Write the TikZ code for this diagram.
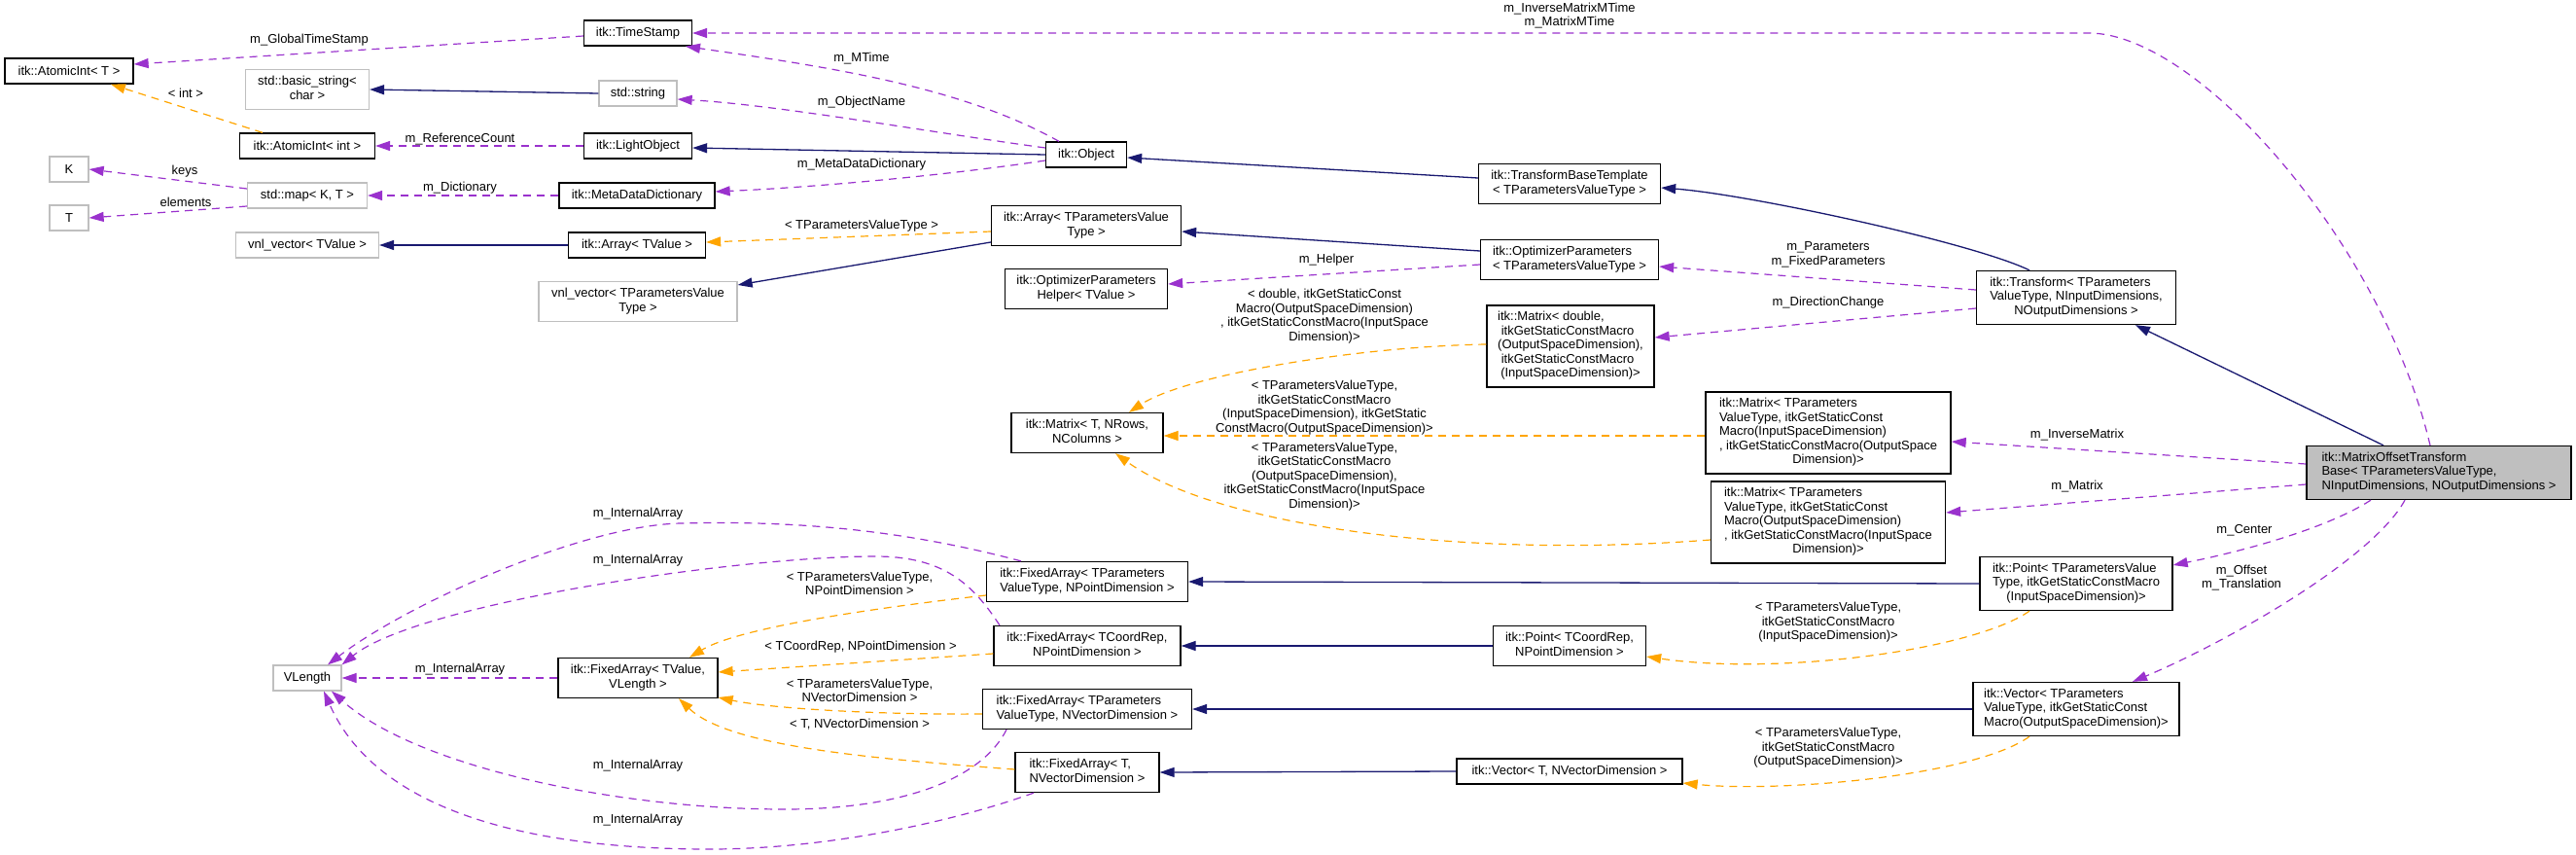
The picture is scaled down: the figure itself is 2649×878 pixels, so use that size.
\documentclass[tikz,border=0pt]{standalone}
\usepackage{fontspec}
\setmainfont{Liberation Sans}
\usetikzlibrary{arrows.meta}
\definecolor{edgepurple}{HTML}{9A32CD}
\definecolor{edgeorange}{HTML}{FFA500}
\definecolor{edgenavy}{HTML}{191970}
\definecolor{extgray}{HTML}{BFBFBF}
\newcommand{\twol}[2]{\begin{tabular}{@{}l@{}}#1\\\multicolumn{1}{@{}c@{}}{#2}\end{tabular}}
\begin{document}
\begin{tikzpicture}[x=1pt,y=-1pt,
  font=\fontsize{13}{14.5}\selectfont,
  cls/.style={draw=black, line width=1.3pt, fill=white, inner sep=0pt, minimum height=26pt, align=center},
  ext/.style={cls, draw=extgray},
  cur/.style={cls, fill=extgray},
  lbl/.style={inner sep=0pt, align=center},
  use/.style={draw=edgepurple, line width=1.2pt, dash pattern=on 8pt off 6pt, -{Triangle[length=15pt,width=10pt]}},
  tpl/.style={use, draw=edgeorange},
  inh/.style={draw=edgenavy, line width=1.3pt, -{Triangle[length=15pt,width=10pt]}},
]
\useasboundingbox (0,0) rectangle (2649,878);
% nodes
\node[cls, minimum width=111pt] (ts) at (656,34) {itk::TimeStamp};
\node[cls, minimum width=132pt] (aiT) at (71,73) {itk::AtomicInt< T >};
\node[ext, minimum width=127pt, minimum height=41pt] (bs) at (316,92) {\twol{std::basic\_string<}{char >}};
\node[ext, minimum width=80pt] (str) at (656,96) {std::string};
\node[cls, minimum width=139pt] (aii) at (316,150) {itk::AtomicInt< int >};
\node[cls, minimum width=111pt] (lo) at (656,150) {itk::LightObject};
\node[ext, minimum width=40pt] (K) at (71,174) {K};
\node[ext, minimum width=40pt] (T) at (71,224) {T};
\node[ext, minimum width=123pt] (map) at (316,201) {std::map< K, T >};
\node[cls, minimum width=160pt] (mdd) at (655,201) {itk::MetaDataDictionary};
\node[ext, minimum width=147pt] (vnlT) at (316,252) {vnl\_vector< TValue >};
\node[cls, minimum width=141pt] (arrT) at (655,252) {itk::Array< TValue >};
\node[ext, minimum width=204pt, minimum height=41pt] (vnlP) at (656,310) {\twol{vnl\_vector< TParametersValue}{Type >}};
\node[cls, minimum width=83pt] (obj) at (1117,159) {itk::Object};
\node[cls, minimum width=195pt, minimum height=41pt] (arrP) at (1117,232) {\twol{itk::Array< TParametersValue}{Type >}};
\node[cls, minimum width=167pt, minimum height=41pt] (help) at (1117,297) {\twol{itk::OptimizerParameters}{Helper< TValue >}};
\node[cls, minimum width=187pt, minimum height=41pt] (tbt) at (1614,189) {\twol{itk::TransformBaseTemplate}{< TParametersValueType >}};
\node[cls, minimum width=183pt, minimum height=41pt] (opt) at (1614,267) {\twol{itk::OptimizerParameters}{< TParametersValueType >}};
\node[cls, minimum width=172pt, minimum height=84pt] (mdbl) at (1615,356) {\twol{itk::Matrix< double,\\\ itkGetStaticConstMacro\\(OutputSpaceDimension),\\\ itkGetStaticConstMacro}{(InputSpaceDimension)>}};
\node[cls, minimum width=205pt, minimum height=55pt] (tr) at (2135,306) {\twol{itk::Transform< TParameters\\ValueType, NInputDimensions,}{NOutputDimensions >}};
\node[cls, minimum width=156pt, minimum height=41pt] (mT) at (1118,445) {\twol{itk::Matrix< T, NRows,}{NColumns >}};
\node[cls, minimum width=252pt, minimum height=84pt] (mIO) at (1880,445) {\twol{itk::Matrix< TParameters\\ValueType, itkGetStaticConst\\Macro(InputSpaceDimension)\\, itkGetStaticConstMacro(OutputSpace}{Dimension)>}};
\node[cls, minimum width=241pt, minimum height=84pt] (mOI) at (1880,537) {\twol{itk::Matrix< TParameters\\ValueType, itkGetStaticConst\\Macro(OutputSpaceDimension)\\, itkGetStaticConstMacro(InputSpace}{Dimension)>}};
\node[cur, minimum width=272pt, minimum height=55pt] (motb) at (2508,486) {\twol{itk::MatrixOffsetTransform\\Base< TParametersValueType,}{NInputDimensions, NOutputDimensions >}};
\node[cls, minimum width=198pt, minimum height=55pt] (ptP) at (2135,600) {\twol{itk::Point< TParametersValue\\Type, itkGetStaticConstMacro}{(InputSpaceDimension)>}};
\node[cls, minimum width=212pt, minimum height=55pt] (vecP) at (2135,729) {\twol{itk::Vector< TParameters\\ValueType, itkGetStaticConst}{Macro(OutputSpaceDimension)>}};
\node[cls, minimum width=207pt, minimum height=41pt] (faPP) at (1118,598) {\twol{itk::FixedArray< TParameters}{ValueType, NPointDimension >}};
\node[cls, minimum width=192pt, minimum height=41pt] (faCR) at (1118,664) {\twol{itk::FixedArray< TCoordRep,}{NPointDimension >}};
\node[cls, minimum width=157pt, minimum height=41pt] (ptCR) at (1614,664) {\twol{itk::Point< TCoordRep,}{NPointDimension >}};
\node[cls, minimum width=215pt, minimum height=41pt] (faPV) at (1118,729) {\twol{itk::FixedArray< TParameters}{ValueType, NVectorDimension >}};
\node[cls, minimum width=148pt, minimum height=41pt] (faTV) at (1118,794) {\twol{itk::FixedArray< T,}{NVectorDimension >}};
\node[cls, minimum width=232pt] (vecT) at (1614,793) {itk::Vector< T, NVectorDimension >};
\node[cls, minimum width=164pt, minimum height=41pt] (faV) at (656,697) {\twol{itk::FixedArray< TValue,}{VLength >}};
\node[ext, minimum width=70pt] (VL) at (316,697) {VLength};
% edges
\draw[use] ([yshift=-3pt]ts.west) -- ([yshift=7pt]aiT.east);
\draw[tpl] ([xshift=-46pt]aii.north) -- ([xshift=43pt]aiT.south);
\draw[inh] (str.west) -- (bs.east);
\draw[use] (lo.west) -- (aii.east);
\draw[use] ([yshift=7pt]map.west) -- (K.east);
\draw[use] ([yshift=-11pt]map.west) -- (T.east);
\draw[use] (mdd.west) -- (map.east);
\draw[inh] (arrT.west) -- (vnlT.east);
\draw[use] ([xshift=-28pt]obj.north) .. controls (990,90) and (860,70) .. ([xshift=49pt]ts.south);
\draw[use] ([yshift=7pt]obj.west) .. controls (950,135) and (800,108) .. ([yshift=-6pt]str.east);
\draw[inh] (obj.west) -- ([yshift=-2pt]lo.east);
\draw[use] ([yshift=-6pt]obj.west) .. controls (990,178) and (850,192) .. ([yshift=4pt]mdd.east);
\draw[tpl] ([yshift=-6pt]arrP.west) -- ([yshift=3pt]arrT.east);
\draw[inh] ([yshift=-17pt]arrP.west) -- ([yshift=17pt]vnlP.east);
\draw[inh] ([yshift=6pt]tbt.west) -- ([yshift=-3pt]obj.east);
\draw[inh] ([yshift=9pt]opt.west) -- ([yshift=-6pt]arrP.east);
\draw[use] ([yshift=-5pt]opt.west) -- ([yshift=5pt]help.east);
\draw[inh] ([xshift=-48pt]tr.north) .. controls (2030,250) and (1800,200) .. ([yshift=-4pt]tbt.east);
\draw[use] ([yshift=8pt]tr.west) -- ([yshift=-7pt]opt.east);
\draw[use] ([yshift=-11pt]tr.west) -- ([yshift=9pt]mdbl.east);
\draw[tpl] ([yshift=2pt]mdbl.west) .. controls (1400,356) and (1220,385) .. ([xshift=43pt]mT.north);
\draw[tpl] ([yshift=-3pt]mIO.west) -- ([yshift=-3pt]mT.east);
\draw[tpl] ([yshift=-18pt]mOI.west) .. controls (1500,575) and (1250,540) .. ([xshift=29pt]mT.south);
\draw[inh] ([xshift=-57pt]motb.north) -- ([xshift=61pt]tr.south);
\draw[use] ([xshift=-9pt]motb.north) .. controls (2450,250) and (2260,34) .. (2148,34) -- (ts.east);
\draw[use] ([yshift=9pt]motb.west) -- ([yshift=-9pt]mIO.east);
\draw[use] ([yshift=-12pt]motb.west) -- ([yshift=10pt]mOI.east);
\draw[use] ([xshift=-70pt]motb.south) .. controls (2390,545) and (2300,568) .. ([yshift=19pt]ptP.east);
\draw[use] ([xshift=-35pt]motb.south) .. controls (2440,575) and (2290,660) .. ([xshift=58pt]vecP.north);
\draw[inh] (ptP.west) -- (faPP.east);
\draw[inh] (vecP.west) -- (faPV.east);
\draw[tpl] ([xshift=-48pt]ptP.south) .. controls (2030,668) and (1830,695) .. ([yshift=-11pt]ptCR.east);
\draw[tpl] ([xshift=-48pt]vecP.south) .. controls (2030,798) and (1830,815) .. ([yshift=-12pt]vecT.east);
\draw[inh] (ptCR.west) -- (faCR.east);
\draw[inh] (vecT.west) -- (faTV.east);
\draw[tpl] ([yshift=-14pt]faPP.west) .. controls (900,625) and (760,645) .. ([xshift=53pt]faV.north);
\draw[tpl] ([yshift=-8pt]faCR.west) -- ([yshift=6pt]faV.east);
\draw[tpl] ([yshift=-5pt]faPV.west) .. controls (900,735) and (790,728) .. ([yshift=-20pt]faV.east);
\draw[tpl] ([yshift=3pt]faTV.west) .. controls (900,780) and (750,768) .. ([xshift=42pt]faV.south);
\draw[use] (faV.west) -- (VL.east);
\draw[use] ([xshift=-68pt]faPP.north) .. controls (930,545) and (820,535) .. (700,538) .. controls (600,540) and (420,620) .. ([xshift=21pt]VL.north);
\draw[use] ([xshift=-90pt]faCR.north) .. controls (1000,600) and (970,572) .. (900,572) .. controls (760,572) and (430,620) .. (VL.north east);
\draw[use] ([xshift=-83pt]faPV.south) .. controls (1010,800) and (930,832) .. (807,832) .. controls (640,832) and (430,790) .. ([xshift=25pt]VL.south);
\draw[use] ([xshift=-55pt]faTV.south) .. controls (980,845) and (850,873) .. (730,873) .. controls (560,873) and (390,840) .. ([xshift=17pt]VL.south);
% labels
\node[lbl] (l1) at (318,41) {m\_GlobalTimeStamp};
\node[lbl] (l2) at (191,96) {< int >};
\node[lbl] (l3) at (473,143) {m\_ReferenceCount};
\node[lbl] (l4) at (190,176) {keys};
\node[lbl] (l5) at (191,208) {elements};
\node[lbl] (l6) at (473,193) {m\_Dictionary};
\node[lbl] (l7) at (886,60) {m\_MTime};
\node[lbl] (l8) at (886,105) {m\_ObjectName};
\node[lbl] (l9) at (886,169) {m\_MetaDataDictionary};
\node[lbl] (l10) at (886,232) {< TParametersValueType >};
\node[lbl] (l11) at (1364,267) {m\_Helper};
\node[lbl] (l12) at (1880,262) {m\_Parameters\\m\_FixedParameters};
\node[lbl] (l13) at (1880,311) {m\_DirectionChange};
\node[lbl] (l14) at (1614,16) {m\_InverseMatrixMTime\\m\_MatrixMTime};
\node[lbl] (l15) at (1362,325) {< double, itkGetStaticConst\\Macro(OutputSpaceDimension)\\, itkGetStaticConstMacro(InputSpace\\Dimension)>};
\node[lbl] (l16) at (1362,419) {< TParametersValueType,\\itkGetStaticConstMacro\\(InputSpaceDimension), itkGetStatic\\ConstMacro(OutputSpaceDimension)>};
\node[lbl] (l17) at (1362,490) {< TParametersValueType,\\itkGetStaticConstMacro\\(OutputSpaceDimension),\\itkGetStaticConstMacro(InputSpace\\Dimension)>};
\node[lbl] (l18) at (2136,447) {m\_InverseMatrix};
\node[lbl] (l19) at (2136,500) {m\_Matrix};
\node[lbl] (l20) at (2308,545) {m\_Center};
\node[lbl] (l21) at (2305,594) {m\_Offset\\m\_Translation};
\node[lbl] (l22) at (1880,640) {< TParametersValueType,\\itkGetStaticConstMacro\\(InputSpaceDimension)>};
\node[lbl] (l23) at (1880,769) {< TParametersValueType,\\itkGetStaticConstMacro\\(OutputSpaceDimension)>};
\node[lbl] (l24) at (884,600) {< TParametersValueType,\\NPointDimension >};
\node[lbl] (l25) at (885,665) {< TCoordRep, NPointDimension >};
\node[lbl] (l26) at (884,710) {< TParametersValueType,\\NVectorDimension >};
\node[lbl] (l27) at (884,745) {< T, NVectorDimension >};
\node[lbl] (l28) at (656,528) {m\_InternalArray};
\node[lbl] (l29) at (656,576) {m\_InternalArray};
\node[lbl] (l30) at (473,688) {m\_InternalArray};
\node[lbl] (l31) at (656,787) {m\_InternalArray};
\node[lbl] (l32) at (656,843) {m\_InternalArray};
\end{tikzpicture}
\end{document}
